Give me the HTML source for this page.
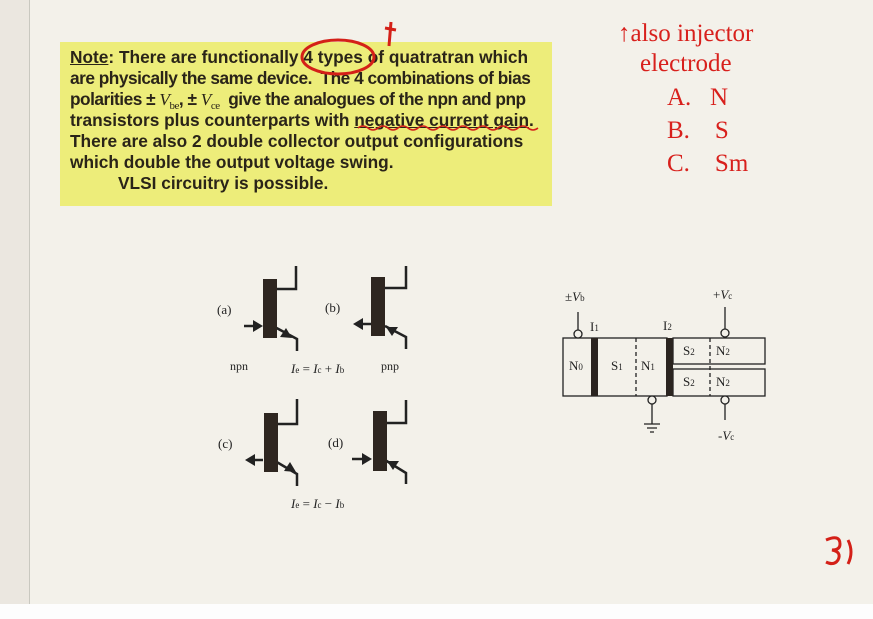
<!DOCTYPE html>
<html><head><meta charset="utf-8"><style>
html,body{margin:0;padding:0}
body{width:873px;height:619px;background:#f3f1ea;position:relative;overflow:hidden;font-family:"Liberation Sans",sans-serif}
.strip{position:absolute;left:0;top:0;width:29px;height:604px;background:#ebe7e0;border-right:1px solid #c9c8c0}
.bot{position:absolute;left:0;top:604px;width:873px;height:15px;background:#fdfdfd}
.box{position:absolute;left:60px;top:42px;width:492px;height:164px;background:#eded7a}
.l{position:absolute;left:70px;font-weight:bold;font-size:17.3px;line-height:21px;height:21px;color:#2a2418;white-space:pre}
.n{letter-spacing:-0.5px}
.v{font-family:'Liberation Serif',serif;font-weight:normal;font-style:italic}
.s{font-family:'Liberation Serif',serif;font-weight:normal;font-size:11px;position:relative;top:4px;line-height:0}
.red{font-family:"Liberation Serif",serif;color:#d8201c;position:absolute;font-size:25px}
</style></head><body>
<div class="strip"></div>
<div class="bot"></div>
<div class="box"></div>
<div class="l" style="top:47px"><u>Note</u>: There are functionally 4 types of quatratran which</div>
<div class="l n" style="top:68px">are physically the same device.  The 4 combinations of bias</div>
<div class="l n" style="top:89px">polarities ± <span class="v">V</span><span class="s">be</span>, ± <span class="v">V</span><span class="s">ce</span>  give the analogues of the npn and pnp</div>
<div class="l" style="top:110px">transistors plus counterparts with <u>negative current gain</u>.</div>
<div class="l" style="top:131px">There are also 2 double collector output configurations</div>
<div class="l" style="top:152px">which double the output voltage swing.</div>
<div class="l" style="top:173px">          VLSI circuitry is possible.</div>
<svg style="position:absolute;left:0;top:0" width="873" height="619">
<ellipse cx="338" cy="57" rx="36" ry="17" fill="none" stroke="#d42018" stroke-width="3"/>
<path d="M385 28 L396 30 M391 22 L389 46" stroke="#d42018" stroke-width="3" fill="none"/>
<path d="M358 128 q5 -4 10 0 t10 0 t10 0 t10 0 t10 0 t10 0 t10 0 t10 0 t10 0 t10 0 t10 0 t10 0 t10 0 t10 0 t10 0 t10 0 t10 0 t10 0" stroke="#d42018" stroke-width="1.5" fill="none"/>
<g stroke="#d42018" stroke-width="3" fill="none"><path d="M826 540 q14 -6 14 4 q0 6 -8 6 q10 2 6 10 q-4 6 -12 2 M848 540 q6 12 0 24"/></g>
<g font-family="Liberation Serif,serif" font-size="12" fill="#222">
<g stroke="#222" stroke-width="2.5" fill="none">
<path d="M296 266 V289 H276"/><path d="M271 325 L297 339 V351"/>
<path d="M406 266 V288 H385"/><path d="M406 349 V337 L385 326"/>
<path d="M297 399 V424 H276"/><path d="M275 461 L297 474 V486"/>
<path d="M406 400 V423 H385"/><path d="M406 484 V473 L385 460"/>
<path d="M244 326 H258"/><path d="M357 324 H371"/><path d="M248 460 H263"/><path d="M352 459 H367"/>
</g>
<rect x="263" y="279" width="14" height="59" fill="#2e2620"/>
<rect x="371" y="277" width="14" height="59" fill="#2e2620"/>
<rect x="264" y="413" width="14" height="59" fill="#2e2620"/>
<rect x="373" y="411" width="14" height="60" fill="#2e2620"/>
<g fill="#222">
<path d="M263 326 L253 320 L253 332Z"/><path d="M292 338 L280 337 L286 328Z"/>
<path d="M353 324 L363 318 L363 330Z"/><path d="M386 327 L398 327 L392 336Z"/>
<path d="M245 460 L255 454 L255 466Z"/><path d="M296 472 L284 471 L290 462Z"/>
<path d="M372 459 L362 453 L362 465Z"/><path d="M387 461 L399 461 L393 470Z"/>
</g>
<text x="217" y="314" font-size="13">(a)</text><text x="325" y="312" font-size="13">(b)</text>
<text x="218" y="448" font-size="13">(c)</text><text x="328" y="447" font-size="13">(d)</text>
<text x="230" y="370" font-size="12">npn</text><text x="381" y="370" font-size="12">pnp</text>
<text x="291" y="373" font-size="13"><tspan font-style="italic">I</tspan><tspan font-size="9">e</tspan> = <tspan font-style="italic">I</tspan><tspan font-size="9">c</tspan> + <tspan font-style="italic">I</tspan><tspan font-size="9">b</tspan></text>
<text x="291" y="508" font-size="13"><tspan font-style="italic">I</tspan><tspan font-size="9">e</tspan> = <tspan font-style="italic">I</tspan><tspan font-size="9">c</tspan> − <tspan font-style="italic">I</tspan><tspan font-size="9">b</tspan></text>
<g stroke="#222" stroke-width="1.3" fill="none">
<rect x="563" y="338" width="104" height="58"/>
<rect x="673" y="338" width="92" height="26"/><rect x="673" y="369" width="92" height="27"/>
<path d="M636 338 V396 M710 338 V396" stroke-dasharray="4 3"/>
<path d="M578 312 V333 M725 307 V334 M652 401 V424 M725 401 V420 M644 424 H660 M647 428 H657 M650 432 H654"/>
<circle cx="578" cy="334" r="4" fill="#f3f1ea"/><circle cx="725" cy="333" r="4" fill="#f3f1ea"/>
<circle cx="652" cy="400" r="4" fill="#f3f1ea"/><circle cx="725" cy="400" r="4" fill="#f3f1ea"/>
</g>
<rect x="591" y="338" width="7" height="58" fill="#2a2420"/>
<rect x="666" y="338" width="7" height="58" fill="#2a2420"/>
<text x="565" y="301" font-size="13">±<tspan font-style="italic">V</tspan><tspan font-size="9">b</tspan></text>
<text x="713" y="299" font-size="13">+<tspan font-style="italic">V</tspan><tspan font-size="9">c</tspan></text>
<text x="718" y="440" font-size="13">-<tspan font-style="italic">V</tspan><tspan font-size="9">c</tspan></text>
<text x="590" y="331" font-size="13">I<tspan font-size="9">1</tspan></text>
<text x="663" y="330" font-size="13">I<tspan font-size="9">2</tspan></text>
<text x="569" y="370" font-size="13">N<tspan font-size="9">0</tspan></text>
<text x="611" y="370" font-size="13">S<tspan font-size="9">1</tspan></text>
<text x="641" y="370" font-size="13">N<tspan font-size="9">1</tspan></text>
<text x="683" y="355" font-size="13">S<tspan font-size="9">2</tspan></text>
<text x="716" y="355" font-size="13">N<tspan font-size="9">2</tspan></text>
<text x="683" y="386" font-size="13">S<tspan font-size="9">2</tspan></text>
<text x="716" y="386" font-size="13">N<tspan font-size="9">2</tspan></text>
</g>
</svg>
<div class="red" style="left:618px;top:20px">↑also injector</div>
<div class="red" style="left:640px;top:50px">electrode</div>
<div class="red" style="left:667px;top:84px">A.&nbsp;&nbsp;&nbsp;N</div>
<div class="red" style="left:667px;top:117px">B.&nbsp;&nbsp;&nbsp;&nbsp;S</div>
<div class="red" style="left:667px;top:150px">C.&nbsp;&nbsp;&nbsp;&nbsp;Sm</div>
</body></html>
